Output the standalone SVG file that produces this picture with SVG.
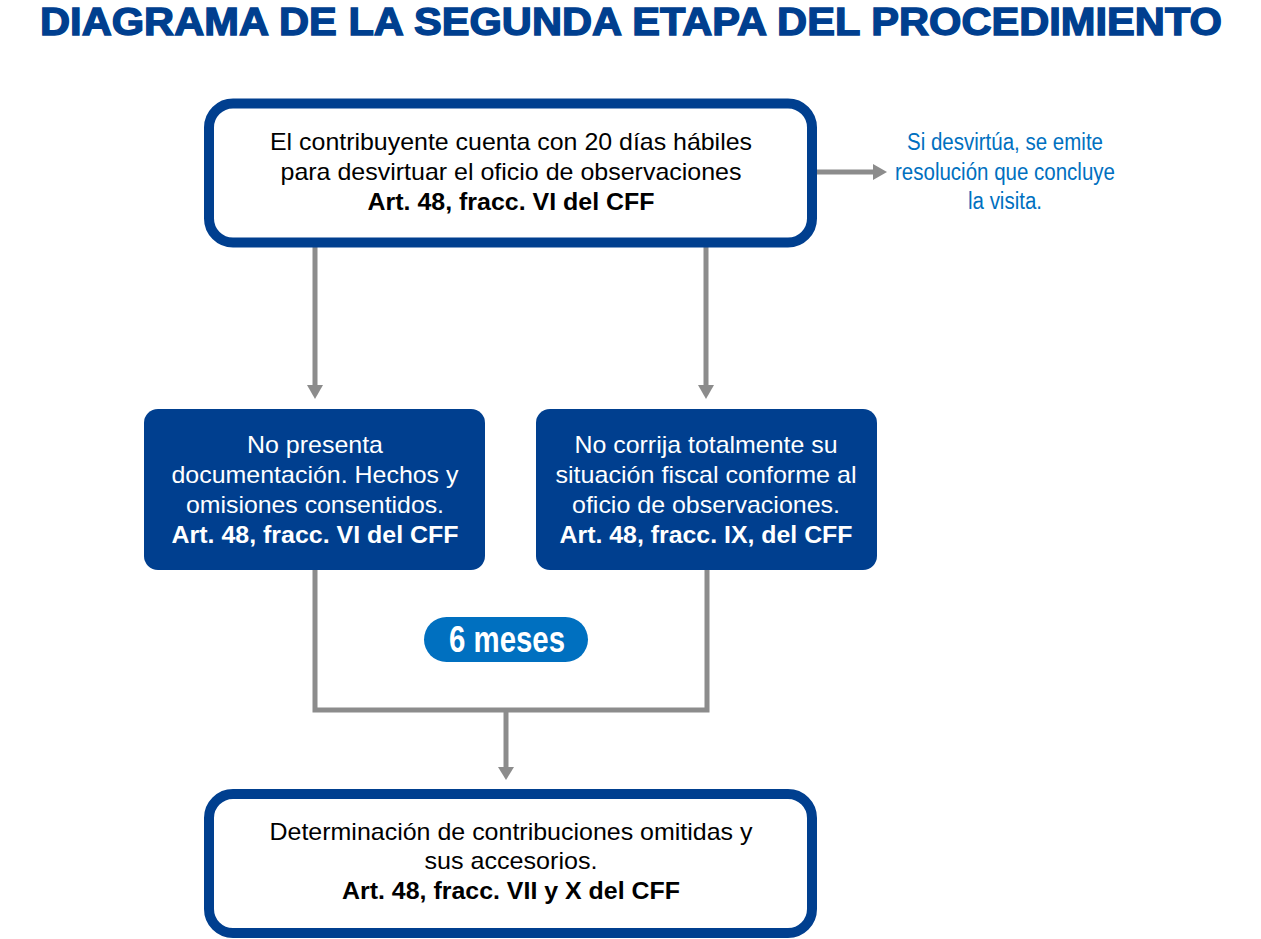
<svg xmlns="http://www.w3.org/2000/svg" width="1261" height="939" viewBox="0 0 1261 939">
  <style>
    .title { font-family: "Liberation Sans", Arial, sans-serif; font-weight: bold; font-size: 39px; fill: #003f8f; stroke: #003f8f; stroke-width: 1.4; }
    .outline { fill: #ffffff; stroke: #003f8f; stroke-width: 10; }
    .solid { fill: #003f8f; }
    .pill { fill: #0070c0; }
    .t { font-family: "Liberation Sans", Arial, sans-serif; font-size: 24px; text-anchor: middle; }
    .dark { fill: #000000; }
    .light { fill: #ffffff; }
    .b { font-weight: bold; }
    .side { font-family: "Liberation Sans", Arial, sans-serif; font-size: 23px; fill: #0070c0; text-anchor: middle; }
    .line { fill: none; stroke: #8c8c8c; stroke-width: 5; }
    .head { fill: #8c8c8c; }
  </style>

  <text id="title" class="title" x="40" y="35" textLength="1182" lengthAdjust="spacingAndGlyphs">DIAGRAMA DE LA SEGUNDA ETAPA DEL PROCEDIMIENTO</text>

  <g id="connectors">
    <line class="line" x1="817" y1="172" x2="874" y2="172"/>
    <polygon class="head" points="873,164 887,172 873,180"/>
    <line class="line" x1="315" y1="247" x2="315" y2="386"/>
    <polygon class="head" points="307,385 323,385 315,399"/>
    <line class="line" x1="706" y1="247" x2="706" y2="386"/>
    <polygon class="head" points="698,385 714,385 706,399"/>
    <polyline class="line" points="315,570 315,710 707,710 707,570"/>
    <line class="line" x1="506" y1="710" x2="506" y2="768"/>
    <polygon class="head" points="498,767 514,767 506,780"/>
  </g>

  <g id="node-top">
    <rect class="outline" x="209" y="103.5" width="603" height="139" rx="24"/>
    <text class="t dark" x="511" y="150" textLength="482" lengthAdjust="spacingAndGlyphs">El contribuyente cuenta con 20 días hábiles</text>
    <text class="t dark" x="511" y="180" textLength="461" lengthAdjust="spacingAndGlyphs">para desvirtuar el oficio de observaciones</text>
    <text class="t dark b" x="511" y="210" textLength="287" lengthAdjust="spacingAndGlyphs">Art. 48, fracc. VI del CFF</text>
  </g>

  <g id="note-right">
    <text class="side" x="1005" y="150" textLength="196" lengthAdjust="spacingAndGlyphs">Si desvirtúa, se emite</text>
    <text class="side" x="1005" y="180" textLength="220" lengthAdjust="spacingAndGlyphs">resolución que concluye</text>
    <text class="side" x="1005" y="209" textLength="74" lengthAdjust="spacingAndGlyphs">la visita.</text>
  </g>

  <g id="node-left">
    <rect class="solid" x="144" y="409" width="341" height="161" rx="14"/>
    <text class="t light" x="315" y="453" textLength="136" lengthAdjust="spacingAndGlyphs">No presenta</text>
    <text class="t light" x="315" y="483" textLength="287" lengthAdjust="spacingAndGlyphs">documentación. Hechos y</text>
    <text class="t light" x="315" y="513" textLength="258" lengthAdjust="spacingAndGlyphs">omisiones consentidos.</text>
    <text class="t light b" x="315" y="543" textLength="287" lengthAdjust="spacingAndGlyphs">Art. 48, fracc. VI del CFF</text>
  </g>

  <g id="node-right">
    <rect class="solid" x="536" y="409" width="341" height="161" rx="14"/>
    <text class="t light" x="706" y="453" textLength="263" lengthAdjust="spacingAndGlyphs">No corrija totalmente su</text>
    <text class="t light" x="706" y="483" textLength="301" lengthAdjust="spacingAndGlyphs">situación fiscal conforme al</text>
    <text class="t light" x="706" y="513" textLength="268" lengthAdjust="spacingAndGlyphs">oficio de observaciones.</text>
    <text class="t light b" x="706" y="543" textLength="293" lengthAdjust="spacingAndGlyphs">Art. 48, fracc. IX, del CFF</text>
  </g>

  <g id="badge">
    <rect class="pill" x="424" y="617" width="164" height="45" rx="22.5"/>
    <text x="507" y="652" font-family="Liberation Sans, Arial, sans-serif" font-weight="bold" font-size="36" fill="#ffffff" text-anchor="middle" textLength="116" lengthAdjust="spacingAndGlyphs">6 meses</text>
  </g>

  <g id="node-bottom">
    <rect class="outline" x="209" y="794" width="603" height="139" rx="24"/>
    <text class="t dark" x="511" y="840" textLength="483" lengthAdjust="spacingAndGlyphs">Determinación de contribuciones omitidas y</text>
    <text class="t dark" x="511" y="869" textLength="173" lengthAdjust="spacingAndGlyphs">sus accesorios.</text>
    <text class="t dark b" x="511" y="899" textLength="338" lengthAdjust="spacingAndGlyphs">Art. 48, fracc. VII y X del CFF</text>
  </g>
</svg>
